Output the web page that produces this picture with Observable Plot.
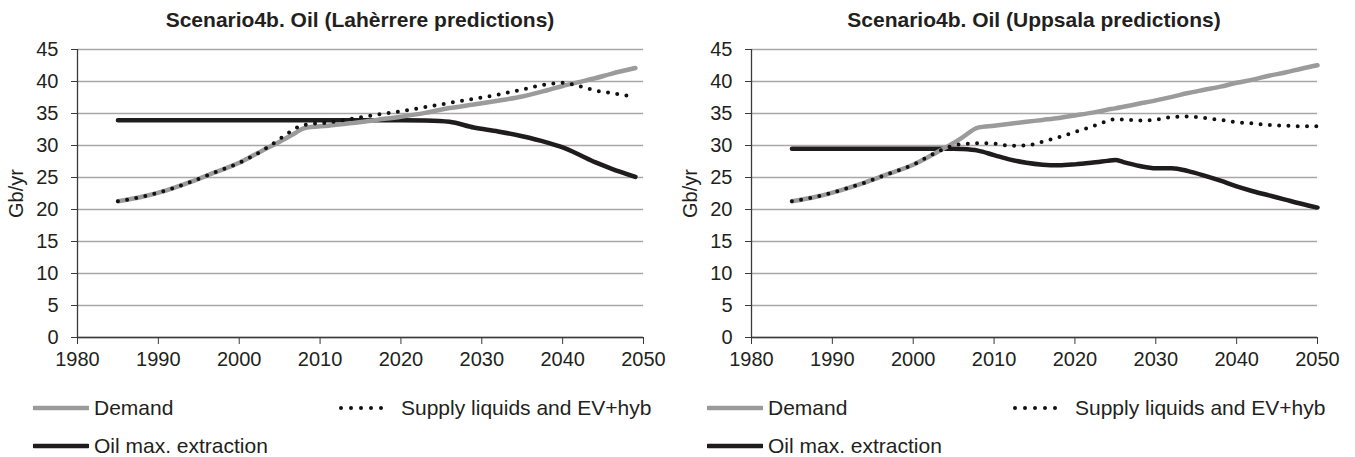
<!DOCTYPE html>
<html><head><meta charset="utf-8">
<script src="https://cdn.jsdelivr.net/npm/d3@7"></script>
<script src="https://cdn.jsdelivr.net/npm/@observablehq/plot@0.6"></script>
<style>
body{margin:0;background:#fff;font-family:"Liberation Sans",Arial,sans-serif;}
#wrap{position:relative;width:1355px;height:457px;overflow:hidden;background:#fff;}
.panel{position:absolute;top:0;width:680px;height:457px;}
.title{position:absolute;top:8px;left:57px;width:606px;text-align:center;font-weight:bold;font-size:21px;color:#231f20;line-height:23px;white-space:nowrap;}
.chart{position:absolute;top:30px;left:0;}
.leg{position:absolute;font-size:21px;color:#231f20;display:flex;align-items:center;height:20px;line-height:20px;white-space:nowrap;}
.leg svg{margin-right:6px;}
</style></head>
<body><div id="wrap"></div>
<script>
// ---- data (Gb/yr) ----
const seriesNames = ["Demand", "Supply liquids and EV+hyb", "Oil max. extraction"];
const titles = ["Scenario4b. Oil (Lahèrrere predictions)", "Scenario4b. Oil (Uppsala predictions)"];
const xTicks = [1980, 1990, 2000, 2010, 2020, 2030, 2040, 2050];
const yTicks = [0, 5, 10, 15, 20, 25, 30, 35, 40, 45];
const yLabel = "Gb/yr";

const yearsL = [1985,1988,1991,1994,1997,2000,2003,2005,2006,2007,2008,2011,2014,2017,2020,2023,2026,2029,2032,2035,2038,2040,2042,2044,2046,2049];
const demandL = [21.3,22.0,23.0,24.3,25.8,27.3,29.3,30.6,31.3,32.0,32.7,33.1,33.5,34.0,34.5,35.1,35.85,36.4,37.0,37.65,38.6,39.3,39.9,40.5,41.2,42.1];
const supplyL = [21.3,22.0,23.0,24.3,25.8,27.3,29.3,31.0,31.9,32.7,33.2,33.6,34.2,34.8,35.35,36.0,36.65,37.3,37.95,38.75,39.55,39.8,39.3,38.6,38.2,37.6];
const oilL    = [33.95,33.95,33.95,33.95,33.95,33.95,33.95,33.95,33.95,33.95,33.95,33.95,33.95,33.95,33.95,33.9,33.7,32.8,32.2,31.45,30.5,29.7,28.6,27.4,26.4,25.1];

const yearsR = [1985,1988,1991,1994,1997,2000,2003,2005,2006,2008,2010,2012,2014,2016,2018,2020,2022,2024,2025,2026,2028,2030,2032,2034,2036,2038,2040,2042,2044,2046,2048,2050];
const demandR = [21.3,22.0,23.0,24.2,25.6,27.0,29.0,30.4,31.2,32.8,33.1,33.4,33.7,34.0,34.3,34.7,35.1,35.6,35.8,36.05,36.55,37.05,37.6,38.2,38.7,39.2,39.8,40.3,40.9,41.4,42.0,42.55];
const supplyR = [21.3,22.0,23.0,24.2,25.6,27.0,29.0,30.0,30.2,30.35,30.3,29.95,30.0,30.6,31.3,32.1,32.9,33.8,34.1,34.05,33.9,34.05,34.45,34.55,34.3,34.0,33.65,33.45,33.2,33.1,33.0,33.0];
const oilR    = [29.5,29.5,29.5,29.5,29.5,29.5,29.5,29.5,29.45,29.2,28.5,27.8,27.3,27.0,26.9,27.05,27.3,27.6,27.75,27.4,26.8,26.45,26.45,26.0,25.3,24.5,23.6,22.85,22.2,21.55,20.9,20.3];

// ---- styles ----
const colDemand = "#9b9b9b", colOil = "#1e1c1d", colAxis = "#3a3a3a", colGrid = "#a8a8a8";
const font = '"Liberation Sans", Arial, sans-serif';

function rows(years, vals){ return years.map((y,i)=>({year:y, v:vals[i]})); }

function makePanel(left, title, years, demand, supply, oil){
  const panel = document.createElement("div");
  panel.className = "panel"; panel.style.left = left + "px";
  const t = document.createElement("div"); t.className = "title"; t.textContent = title;
  panel.appendChild(t);
  const chart = Plot.plot({
    width: 680, height: 350,
    marginLeft: 77, marginRight: 37, marginTop: 19, marginBottom: 43,
    style: {fontFamily: font, fontSize: "20px", color: "#231f20", background: "transparent", overflow: "visible"},
    x: {domain: [1980, 2050]},
    y: {domain: [0, 45]},
    marks: [
      Plot.gridY(yTicks, {stroke: colGrid, strokeOpacity: 1, strokeWidth: 1.3}),
      Plot.axisY(yTicks, {tickSize: 6, tickPadding: 13, stroke: colAxis, fill: "#231f20", fontSize: 20,
        label: yLabel, labelAnchor: "center", labelArrow: "none", labelOffset: 69}),
      Plot.axisX(xTicks, {tickFormat: "d", tickSize: 7, tickPadding: 7, stroke: colAxis, fill: "#231f20", fontSize: 20, label: null}),
      Plot.ruleX([1980], {stroke: colAxis, strokeWidth: 1.3}),
      Plot.ruleY([0], {stroke: colAxis, strokeWidth: 1.3}),
      Plot.line(rows(years, oil), {x: "year", y: "v", stroke: colOil, strokeWidth: 4.5, curve: "monotone-x"}),
      Plot.line(rows(years, demand), {x: "year", y: "v", stroke: colDemand, strokeWidth: 4.5, curve: "monotone-x"}),
      Plot.line(rows(years, supply), {x: "year", y: "v", stroke: "#111", strokeWidth: 4, strokeDasharray: "0 9.3", strokeLinecap: "round", curve: "monotone-x"})
    ]
  });
  chart.classList.add("chart");
  panel.appendChild(chart);

  const legItems = [
    {name: seriesNames[0], x: 33, y: 398, kind: "demand"},
    {name: seriesNames[1], x: 339, y: 398, kind: "supply"},
    {name: seriesNames[2], x: 33, y: 436, kind: "oil"}
  ];
  for (const it of legItems){
    const d = document.createElement("div"); d.className = "leg";
    d.style.left = it.x + "px"; d.style.top = it.y + "px";
    let sw;
    if (it.kind === "supply"){
      sw = `<svg width="56" height="10"><line x1="2" x2="52" y1="5" y2="5" stroke="#111" stroke-width="4" stroke-dasharray="0 10" stroke-linecap="round"/></svg>`;
    } else {
      const c = it.kind === "demand" ? colDemand : colOil;
      sw = `<svg width="56" height="10" style="margin-right:5px"><line x1="1" x2="55" y1="5" y2="5" stroke="${c}" stroke-width="4.5" stroke-linecap="round"/></svg>`;
    }
    d.innerHTML = sw + `<span>${it.name}</span>`;
    panel.appendChild(d);
  }
  document.getElementById("wrap").appendChild(panel);
}

makePanel(0, titles[0], yearsL, demandL, supplyL, oilL);
makePanel(674, titles[1], yearsR, demandR, supplyR, oilR);
</script>
</body></html>
